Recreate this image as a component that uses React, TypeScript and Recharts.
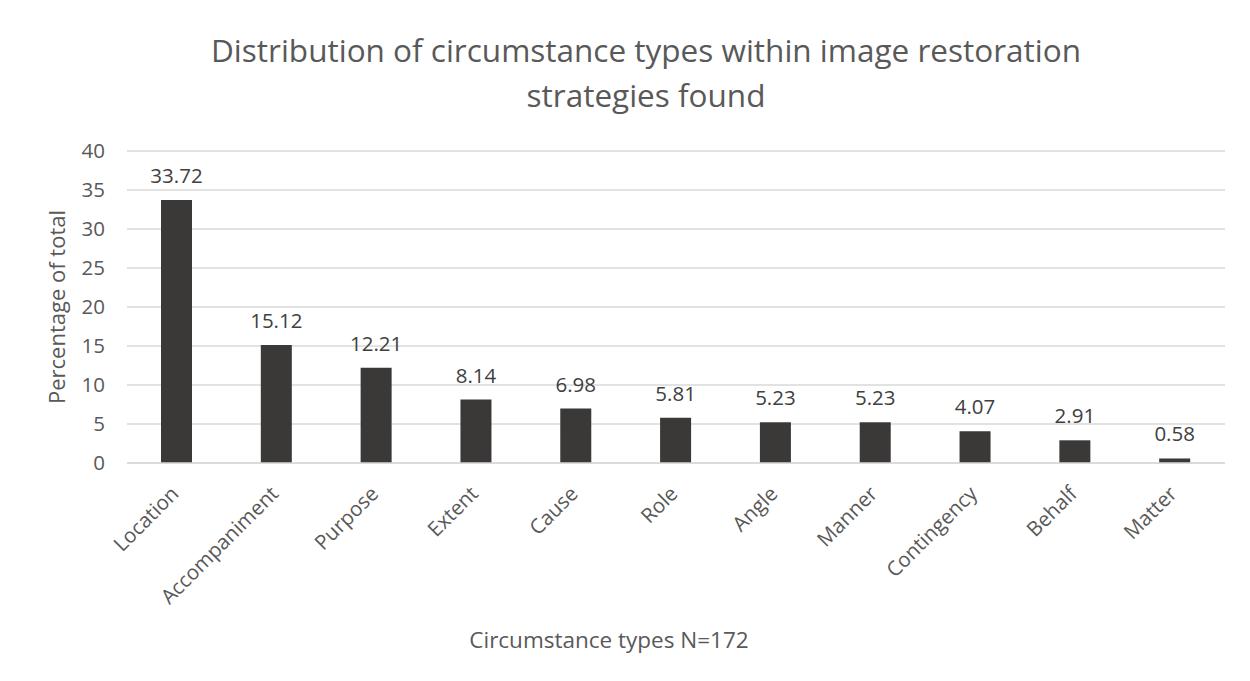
import { BarChart, Bar, XAxis, YAxis, CartesianGrid, LabelList, Label } from 'recharts';

const categories = [
  'Location',
  'Accompaniment',
  'Purpose',
  'Extent',
  'Cause',
  'Role',
  'Angle',
  'Manner',
  'Contingency',
  'Behalf',
  'Matter',
];
const percentages = [33.72, 15.12, 12.21, 8.14, 6.98, 5.81, 5.23, 5.23, 4.07, 2.91, 0.58];
const yTicks = [0, 5, 10, 15, 20, 25, 30, 35, 40];

const data = categories.map((name, i) => ({ name, value: percentages[i] }));

const font = '"Open Sans", sans-serif';
const textColor = '#595959';

function AngledTick(props: any) {
  const { x, y, payload } = props;
  const ax = x + 3;
  const ay = y + 24;
  return (
    <text
      x={ax}
      y={ay}
      transform={`rotate(-45, ${ax}, ${ay})`}
      textAnchor="end"
      fill={textColor}
      fontSize={20.5}
      fontFamily={font}
    >
      {payload.value}
    </text>
  );
}

export default function App() {
  return (
    <div
      style={{
        position: 'relative',
        marginLeft: -1,
        marginTop: -1,
        width: 1242,
        height: 673,
        borderTop: '1px solid #d9d9d9',
        borderLeft: '1px solid #d9d9d9',
        overflow: 'hidden',
        background: '#fff',
        fontFamily: font,
      }}
    >
      <div
        style={{
          position: 'absolute',
          left: 138,
          top: 19,
          width: 1000,
          textAlign: 'center',
          fontSize: 31.5,
          lineHeight: '45px',
          color: textColor,
        }}
      >
        Distribution of circumstance types within image restoration
        <br />
        strategies found
      </div>
      <BarChart
        width={1242}
        height={673}
        data={data}
        margin={{ top: 143, right: 25, left: 20, bottom: 68 }}
      >
        <CartesianGrid vertical={false} stroke="#d9d9d9" strokeWidth={1.5} />
        <XAxis
          dataKey="name"
          height={150}
          interval={0}
          tickLine={false}
          axisLine={{ stroke: '#d9d9d9', strokeWidth: 1.5 }}
          tick={<AngledTick />}
        />
        <YAxis
          width={99}
          domain={[0, 40]}
          ticks={yTicks}
          tickLine={false}
          axisLine={false}
          tickSize={6}
          tickMargin={16}
          tick={{ fill: textColor, fontSize: 20.5, fontFamily: font }}
        >
          <Label
            value="Percentage of total"
            angle={-90}
            position="insideLeft"
            offset={29}
            textAnchor="middle"
            fill={textColor}
            fontSize={22}
            fontFamily={font}
          />
        </YAxis>
        <Bar dataKey="value" fill="#3b3838" barSize={31} isAnimationActive={false}>
          <LabelList
            dataKey="value"
            position="top"
            offset={17}
            fill="#404040"
            fontSize={20.5}
            fontFamily={font}
          />
        </Bar>
      </BarChart>
      <div
        style={{
          position: 'absolute',
          left: 401,
          top: 617,
          width: 400,
          textAlign: 'center',
          fontSize: 22.5,
          lineHeight: '30px',
          color: textColor,
        }}
      >
        Circumstance types N=172
      </div>
    </div>
  );
}
